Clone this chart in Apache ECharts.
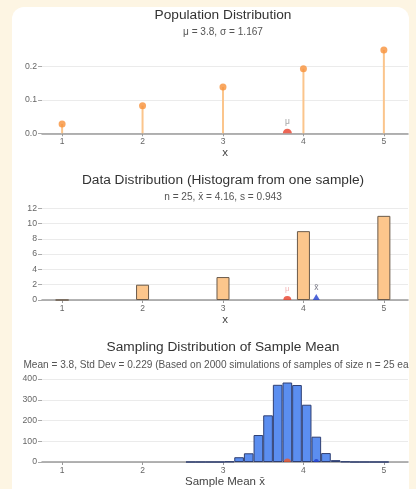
<!DOCTYPE html>
<html><head><meta charset="utf-8">
<script src="https://cdn.jsdelivr.net/npm/echarts@6/dist/echarts.min.js"></script>
<style>
html,body{margin:0;padding:0;background:#fdf5e3;width:416px;height:489px;overflow:hidden}
#panel{position:absolute;left:12px;top:7px;width:397px;height:500px;background:#fff;border-radius:12px;overflow:hidden}
#chart{position:absolute;left:-12px;top:-7px;width:416px;height:489px}
</style></head><body><div id="panel"><div id="chart"></div></div>
<script>
// ---- data ----
const xValues = [1, 2, 3, 4, 5];
const popProb = [0.028, 0.083, 0.139, 0.194, 0.25];
const popMean = 3.8;
const sampleCounts = [0, 2, 3, 9, 11];
const sampleMean = 4.16;
const simBinCenters = [2.6, 2.72, 2.84, 2.96, 3.08, 3.2, 3.32, 3.44, 3.56, 3.68, 3.8, 3.92, 4.04, 4.16, 4.28, 4.4, 4.52, 4.64, 4.76, 4.88, 5.0];
const simCounts = [0, 0, 0, 0, 2, 23, 42, 130, 225, 372, 383, 371, 276, 122, 43, 9, 2, 0, 0, 0, 0];
const simBinWidth = 0.12;
const xTickLabels = [1, 2, 3, 4, 5];
const popYTicks = [0, 0.1, 0.2];
const sampleYTicks = [0, 2, 4, 6, 8, 10, 12];
const simYTicks = [0, 100, 200, 300, 400];
const titleTexts = ['Population Distribution', 'Data Distribution (Histogram from one sample)', 'Sampling Distribution of Sample Mean'];
const subTexts = ['\u03bc = 3.8, \u03c3 = 1.167', 'n = 25, x\u0304 = 4.16, s = 0.943', 'Mean = 3.8, Std Dev = 0.229 (Based on 2000 simulations of samples of size n = 25 each)'];
const xNames = ['x', 'x', 'Sample Mean x\u0304'];

// ---- layout ----
const FONT = '"Liberation Sans", Arial, sans-serif';
const X_MIN = 0.75, X_MAX = 5.3;
const gridLeft = 42, gridWidth = 366;
const grids = [
  { left: gridLeft, top: 46.7, width: gridWidth, height: 86.6 },
  { left: gridLeft, top: 208.2, width: gridWidth, height: 91.8 },
  { left: gridLeft, top: 379, width: gridWidth, height: 84.3 }
];
const pxPerUnit = gridWidth / (X_MAX - X_MIN);
const titleY = [15, 180, 347.3];
const subY = [32.3, 197.3, 365];
const semi = 'path://M0 10 A10 10 0 0 1 20 10 Z';

function xAxis(i) {
  return {
    type: 'value', gridIndex: i, min: X_MIN, max: X_MAX,
    name: xNames[i], nameLocation: 'middle', nameGap: 14,
    nameTextStyle: { fontFamily: FONT, fontSize: 11.5, color: '#444' },
    axisLine: { show: true, onZero: true, lineStyle: { color: '#9a9a9a', width: 1.5 } },
    axisTick: { show: true, length: 3, customValues: xTickLabels, lineStyle: { color: '#999' } },
    axisLabel: { customValues: xTickLabels, margin: 4, fontFamily: FONT, fontSize: 8.5, color: '#666' },
    splitLine: { show: false }
  };
}
function yAxis(i, ticks, max, fmt) {
  return {
    type: 'value', gridIndex: i, min: 0, max: max,
    axisLine: { show: false },
    axisTick: { show: true, length: 4, customValues: ticks, lineStyle: { color: '#aaa' } },
    axisLabel: { customValues: ticks, margin: 5, fontFamily: FONT, fontSize: 8.7, color: '#666', formatter: fmt },
    splitLine: { show: true, lineStyle: { color: '#ebebeb', width: 1 } }
  };
}

const graphics = [];
for (let i = 0; i < 3; i++) {
  graphics.push({ type: 'text', x: 223, y: titleY[i], silent: true,
    style: { text: titleTexts[i], align: 'center', verticalAlign: 'middle', font: '13.7px ' + FONT, fill: '#333' } });
  graphics.push({ type: 'text', x: 223, y: subY[i], silent: true,
    style: { text: subTexts[i], align: 'center', verticalAlign: 'middle', font: '10.1px ' + FONT, fill: '#555' } });
}

const popData = xValues.map((x, k) => [x, popProb[k]]);
const sampleData = xValues.map((x, k) => [x, sampleCounts[k]]);
const simData = simBinCenters.map((x, k) => [x, simCounts[k]]);

const option = {
  animation: false,
  backgroundColor: 'transparent',
  grid: grids,
  xAxis: [xAxis(0), xAxis(1), xAxis(2)],
  yAxis: [
    yAxis(0, popYTicks, 0.26, v => v.toFixed(1)),
    yAxis(1, sampleYTicks, 12, v => String(v)),
    yAxis(2, simYTicks, 400, v => String(v))
  ],
  graphic: graphics,
  series: [
    { type: 'bar', xAxisIndex: 0, yAxisIndex: 0, data: popData, barWidth: 2,
      itemStyle: { color: '#fbc58c' }, silent: true },
    { type: 'scatter', xAxisIndex: 0, yAxisIndex: 0, data: popData, symbolSize: 7,
      itemStyle: { color: '#f7913a' }, silent: true },
    { type: 'scatter', xAxisIndex: 0, yAxisIndex: 0, data: [[popMean, 0]], symbol: semi,
      symbolSize: [9, 4.5], symbolOffset: [0, -2.25], itemStyle: { color: '#e8402a' },
      label: { show: true, position: 'top', distance: 3, formatter: '\u03bc', fontFamily: FONT, fontSize: 8.5, color: '#888' }, z: 5 },

    { type: 'bar', xAxisIndex: 1, yAxisIndex: 1, data: sampleData, barWidth: 13,
      itemStyle: { color: '#fcc68c', borderColor: '#6a5a4a', borderWidth: 1 }, silent: true },
    { type: 'scatter', xAxisIndex: 1, yAxisIndex: 1, data: [[popMean, 0]], symbol: semi,
      symbolSize: [8, 4], symbolOffset: [0, -2], itemStyle: { color: '#e8402a' },
      label: { show: true, position: 'top', distance: 3, formatter: '\u03bc', fontFamily: FONT, fontSize: 8, color: '#f0a4a4' }, z: 5 },
    { type: 'scatter', xAxisIndex: 1, yAxisIndex: 1, data: [[sampleMean, 0]], symbol: 'triangle',
      symbolSize: [7, 6], symbolOffset: [0, -3], itemStyle: { color: '#2340d0' },
      label: { show: true, position: 'top', distance: 2, formatter: 'x\u0304', fontFamily: FONT, fontSize: 8.5, color: '#556' }, z: 5 },

    { type: 'bar', xAxisIndex: 2, yAxisIndex: 2, data: simData, barWidth: simBinWidth * pxPerUnit,
      itemStyle: { color: '#5b8ef0', borderColor: '#2f3f72', borderWidth: 1 }, silent: true },
    { type: 'scatter', xAxisIndex: 2, yAxisIndex: 2, data: [[popMean, 0]], symbol: semi,
      symbolSize: [7, 3.5], symbolOffset: [0, -1.75], itemStyle: { color: '#f05a28' }, z: 5 },
    { type: 'scatter', xAxisIndex: 2, yAxisIndex: 2, data: [[sampleMean, 0]], symbol: semi,
      symbolSize: [5, 3], symbolOffset: [0, -1.5], itemStyle: { color: '#2340d0' }, z: 5 }
  ]
};
const chart = echarts.init(document.getElementById('chart'), null, { renderer: 'canvas' });
chart.setOption(option);
</script></body></html>
